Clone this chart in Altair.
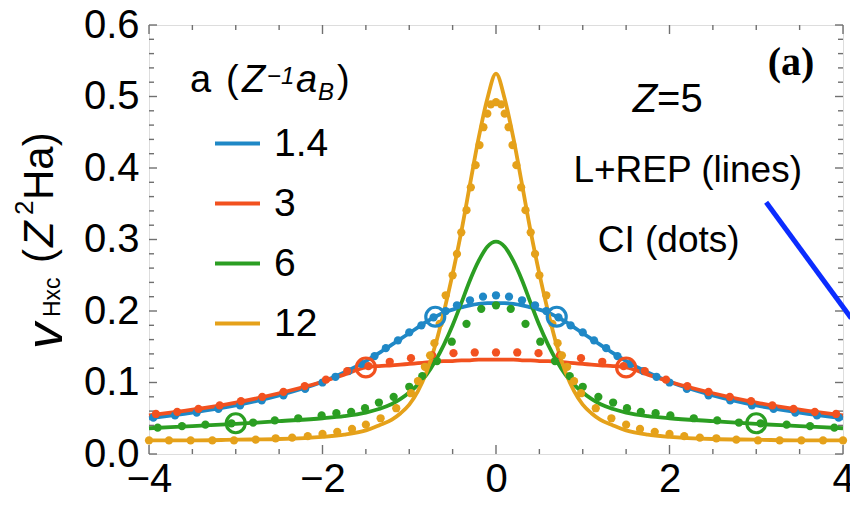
import altair as alt
import pandas as pd

# ---------------- data ----------------
series = ["1.4", "3", "6", "12"]
colors = ["#1f88c6", "#f2511f", "#2b9e22", "#e5a11a"]

# L+REP lines: right half (mirrored to the left half)
x_line = [0, 0.1, 0.2, 0.3, 0.4, 0.5, 0.6, 0.7, 0.8, 0.9, 1.0, 1.1, 1.2, 1.35, 1.5, 1.75, 2.0, 2.5, 3.0, 3.5, 4.0]
line_14 = [0.211, 0.211, 0.210, 0.208, 0.205, 0.202, 0.198, 0.192, 0.185, 0.177, 0.169, 0.161, 0.153, 0.141, 0.130, 0.114, 0.101, 0.082, 0.068, 0.058, 0.050]
line_3 = [0.132, 0.132, 0.132, 0.131, 0.131, 0.130, 0.130, 0.129, 0.128, 0.127, 0.126, 0.125, 0.124, 0.123, 0.121, 0.111, 0.101, 0.085, 0.072, 0.062, 0.054]
line_6 = [0.297, 0.290, 0.270, 0.243, 0.211, 0.180, 0.153, 0.130, 0.111, 0.097, 0.086, 0.077, 0.070, 0.063, 0.058, 0.053, 0.050, 0.046, 0.042, 0.039, 0.036]
line_12 = [0.532, 0.497, 0.442, 0.377, 0.311, 0.252, 0.199, 0.152, 0.115, 0.088, 0.069, 0.057, 0.048, 0.040, 0.033, 0.027, 0.024, 0.021, 0.020, 0.019, 0.019]

# CI dots: right half (mirrored)
dx_14 = [0, 0.15, 0.3, 0.45, 0.58, 0.72, 0.86, 1.0, 1.13, 1.27, 1.4, 1.55, 1.7, 1.85, 2.0, 2.2, 2.45, 2.7, 2.95, 3.2, 3.45, 3.7, 3.95]
dv_14 = [0.222, 0.220, 0.215, 0.208, 0.200, 0.191, 0.180, 0.170, 0.159, 0.148, 0.137, 0.126, 0.116, 0.108, 0.100, 0.091, 0.082, 0.075, 0.068, 0.063, 0.058, 0.054, 0.051]
dx_3 = [0, 0.245, 0.49, 0.735, 0.98, 1.225, 1.47, 1.715, 1.96, 2.205, 2.45, 2.695, 2.94, 3.185, 3.43, 3.675, 3.92]
dv_3 = [0.142, 0.142, 0.141, 0.138, 0.134, 0.129, 0.123, 0.116, 0.104, 0.095, 0.087, 0.080, 0.074, 0.068, 0.063, 0.059, 0.056]
dx_6 = [0, 0.17, 0.34, 0.51, 0.68, 0.85, 1.0, 1.18, 1.35, 1.51, 1.67, 1.84, 2.01, 2.28, 2.55, 2.8, 3.05, 3.35, 3.62, 3.9]
dv_6 = [0.208, 0.203, 0.182, 0.157, 0.130, 0.109, 0.094, 0.080, 0.072, 0.064, 0.059, 0.057, 0.054, 0.050, 0.047, 0.044, 0.043, 0.041, 0.039, 0.037]
dx_12 = [0, 0.06, 0.1, 0.145, 0.19, 0.235, 0.29, 0.34, 0.4, 0.45, 0.5, 0.58, 0.65, 0.71, 0.76, 0.82, 0.9, 0.98, 1.15, 1.33, 1.5, 1.66, 1.83, 2.0, 2.17, 2.35, 2.54, 2.77, 3.02, 3.27, 3.52, 3.77, 4.0]
dv_12 = [0.492, 0.489, 0.476, 0.457, 0.432, 0.404, 0.373, 0.341, 0.31, 0.28, 0.25, 0.222, 0.182, 0.155, 0.138, 0.122, 0.102, 0.085, 0.064, 0.050, 0.041, 0.035, 0.031, 0.028, 0.025, 0.023, 0.022, 0.020, 0.019, 0.019, 0.019, 0.019, 0.019]

# open circles (nucleus positions +-a/2)
circ_series = ["1.4", "1.4", "3", "3", "6", "6"]
circ_x = [-0.7, 0.7, -1.5, 1.5, -3.0, 3.0]
circ_v = [0.192, 0.192, 0.121, 0.121, 0.043, 0.043]

# frame ticks
x_major = [-4, -2, 0, 2, 4]
x_minor = [-3.5, -3, -2.5, -1.5, -1, -0.5, 0.5, 1, 1.5, 2.5, 3, 3.5]
y_major = [0.0, 0.1, 0.2, 0.3, 0.4, 0.5, 0.6]
y_minor = [0.02, 0.04, 0.06, 0.08, 0.12, 0.14, 0.16, 0.18, 0.22, 0.24, 0.26, 0.28,
           0.32, 0.34, 0.36, 0.38, 0.42, 0.44, 0.46, 0.48, 0.52, 0.54, 0.56, 0.58]

# annotations (data coordinates)
arrow = {"x": [3.114], "v": [0.352], "x2": [4.095], "v2": [0.190]}


def mirror(xs, vs):
    xx = [-x for x in reversed(xs) if x != 0] + list(xs)
    vv = [v for x, v in zip(reversed(xs), reversed(vs)) if x != 0] + list(vs)
    return xx, vv


rows = []
for s, vals in zip(series, [line_14, line_3, line_6, line_12]):
    xx, vv = mirror(x_line, vals)
    rows += [{"a": s, "x": x, "v": v} for x, v in zip(xx, vv)]
line_df = pd.DataFrame(rows)

rows = []
for s, xs_, vs_ in zip(series, [dx_14, dx_3, dx_6, dx_12], [dv_14, dv_3, dv_6, dv_12]):
    xx, vv = mirror(xs_, vs_)
    rows += [{"a": s, "x": x, "v": v} for x, v in zip(xx, vv)]
dot_df = pd.DataFrame(rows)

circ_df = pd.DataFrame({"a": circ_series, "x": circ_x, "v": circ_v})

# ---------------- chart ----------------
W, H = 694, 429
FONT = "Liberation Sans"
FRAME = "#707070"

xs = alt.Scale(domain=[-4, 4], nice=False, zero=False)
ys = alt.Scale(domain=[0, 0.6], nice=False, zero=False)
cs = alt.Scale(domain=series, range=colors)

x_axis = alt.Axis(values=x_major, ticks=False, domain=False, grid=False,
                  labelFontSize=40, labelFont=FONT, labelColor="black",
                  labelPadding=5, labelFlush=False, title=None, format="d")
y_axis = alt.Axis(values=y_major, ticks=False, domain=False, grid=False,
                  labelFontSize=40, labelFont=FONT, labelColor="black",
                  labelPadding=10, labelFlush=False, title=None, format=".1f")
legend = alt.Legend(
    orient="none", legendX=64, legendY=94, title=None,
    symbolType="stroke", symbolSize=2025, symbolStrokeWidth=3.8,
    labelFontSize=39, labelFont=FONT, labelColor="black",
    labelOffset=12, rowPadding=15, padding=0, symbolOpacity=1,
)


def X(field="x:Q"):
    return alt.X(field, scale=xs, axis=x_axis)


def Y(field="v:Q"):
    return alt.Y(field, scale=ys, axis=y_axis)


def C():
    return alt.Color("a:N", scale=cs, legend=legend)


lines = alt.Chart(line_df).mark_line(strokeWidth=3.8, interpolate="monotone").encode(
    x=X(), y=Y(), color=C()
)
dots = alt.Chart(dot_df).mark_circle(size=68, opacity=1).encode(
    x=X(), y=Y(), color=C()
)
circles = alt.Chart(circ_df).mark_point(size=360, filled=False, strokeWidth=3.2, opacity=1).encode(
    x=X(), y=Y(), color=C()
)


def xticks(vals, length):
    df = pd.DataFrame({"t": vals})
    b = alt.Chart(df).mark_rule(color=FRAME, strokeWidth=1.4).encode(
        x=X("t:Q"), y=alt.value(H), y2=alt.value(H - length))
    t = alt.Chart(df).mark_rule(color=FRAME, strokeWidth=1.4).encode(
        x=X("t:Q"), y=alt.value(0), y2=alt.value(length))
    return b + t


def yticks(vals, length):
    df = pd.DataFrame({"t": vals})
    l = alt.Chart(df).mark_rule(color=FRAME, strokeWidth=1.4).encode(
        y=Y("t:Q"), x=alt.value(0), x2=alt.value(length))
    r = alt.Chart(df).mark_rule(color=FRAME, strokeWidth=1.4).encode(
        y=Y("t:Q"), x=alt.value(W), x2=alt.value(W - length))
    return l + r


ticks = xticks(x_major, 9) + xticks(x_minor, 5) + yticks(y_major, 8) + yticks(y_minor, 5)

arrow_line = alt.Chart(pd.DataFrame(arrow)).mark_rule(color="#0b2cff", strokeWidth=5).encode(
    x=X(), y=Y(), x2="x2:Q", y2="v2:Q")


def label(text, x, v, size, align="center", style="normal", weight="normal", font=FONT):
    df = pd.DataFrame({"x": [x], "v": [v], "t": [text]})
    return alt.Chart(df).mark_text(
        fontSize=size, align=align, baseline="alphabetic", font=font,
        fontStyle=style, fontWeight=weight, color="black",
    ).encode(x=X(), y=Y(), text="t:N")


annots = (
    label("Z", 1.857, 0.478, 40, align="right", style="italic")
    + label("=5", 1.857, 0.478, 40, align="left")
    + label("L+REP (lines)", 2.21, 0.380, 37)
    + label("CI (dots)", 1.99, 0.283, 37)
    + label("(a)", 3.67, 0.530, 40, align="right", weight="bold", font="Liberation Serif")
)


def ptext(text, x, y, size, style="normal", angle=0, align="left"):
    kw = dict(fontSize=size, align=align, baseline="alphabetic", font=FONT,
              fontStyle=style, color="black")
    if angle:
        kw["angle"] = angle
    return alt.Chart(pd.DataFrame({"t": [text]})).mark_text(**kw).encode(
        x=alt.value(x), y=alt.value(y), text="t:N")


# legend title  a (Z^-1 a_B)
leg_title = (
    ptext("a", 41, 67, 38)
    + ptext("(", 77, 67, 38)
    + ptext("Z", 93, 67, 38, style="italic")
    + ptext("\u22121", 118, 59, 24, style="italic")
    + ptext("a", 147, 67, 38, style="italic")
    + ptext("B", 169, 75, 24, style="italic")
    + ptext(")", 188, 67, 38)
)

# y-axis title  v_Hxc (Z^2 Ha), rotated
y_title = (
    ptext("v", -87, 324, 52, style="italic", angle=270)
    + ptext("Hxc", -89, 292, 23, angle=270)
    + ptext("(", -96, 238, 42, angle=270)
    + ptext("Z", -96, 222, 42, style="italic", angle=270)
    + ptext("2", -116, 190, 26, angle=270)
    + ptext("Ha)", -96, 175, 42, angle=270)
)

chart = alt.layer(
    ticks, lines, dots, circles, arrow_line, annots, leg_title, y_title
).properties(
    width=W, height=H,
    padding={"left": 149, "top": 25, "right": 7, "bottom": 51},
    autosize=alt.AutoSizeParams(type="none"),
).configure_view(stroke=FRAME, strokeWidth=1.7).configure(background="white")

chart.save("out.html", embed_options={"renderer": "svg", "actions": False})
